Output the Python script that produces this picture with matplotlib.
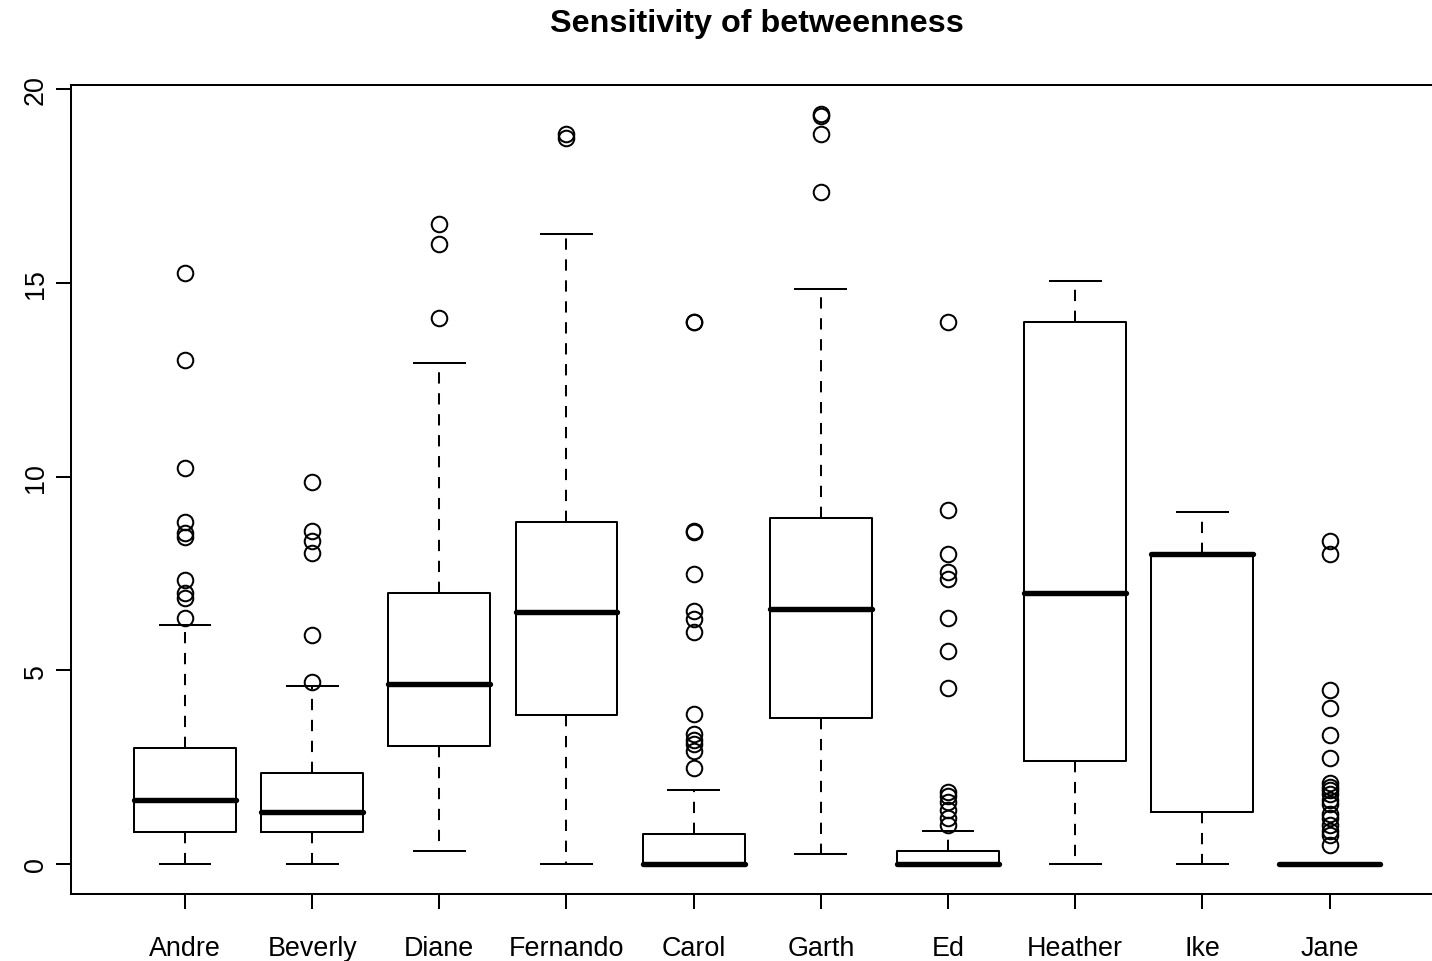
import matplotlib
matplotlib.use("Agg")
import matplotlib.pyplot as plt

plt.rcParams['font.family'] = ['Liberation Sans', 'DejaVu Sans']

title = "Sensitivity of betweenness"
names = ["Andre", "Beverly", "Diane", "Fernando", "Carol",
         "Garth", "Ed", "Heather", "Ike", "Jane"]
whislo = [0.0, 0.0, 0.33, 0.0, 0.0, 0.26, 0.0, 0.0, 0.0, 0.0]
q1 = [0.83, 0.83, 3.05, 3.85, 0.0, 3.77, 0.0, 2.66, 1.34, 0.0]
med = [1.65, 1.34, 4.66, 6.50, 0.0, 6.58, 0.0, 7.00, 8.00, 0.0]
q3 = [3.00, 2.35, 7.00, 8.83, 0.77, 8.93, 0.34, 14.00, 8.00, 0.0]
whishi = [6.17, 4.60, 12.94, 16.26, 1.90, 14.84, 0.85, 15.04, 9.08, 0.0]
outliers_andre = [15.25, 13.0, 10.23, 8.83, 8.55, 8.43, 7.34, 7.0, 6.86, 6.36]
outliers_beverly = [9.86, 8.6, 8.35, 8.03, 5.92, 4.7]
outliers_diane = [16.53, 16.0, 14.1]
outliers_fernando = [18.85, 18.75]
outliers_carol = [14.0, 14.0, 8.6, 8.57, 7.5, 6.52, 6.33, 6.0,
                  3.87, 3.35, 3.2, 3.1, 2.92, 2.48]
outliers_garth = [19.35, 19.3, 18.85, 17.34]
outliers_ed = [14.0, 9.15, 8.0, 7.55, 7.35, 6.35, 5.5, 4.55,
               1.85, 1.75, 1.6, 1.4, 1.2, 1.0]
outliers_heather = []
outliers_ike = []
outliers_jane = [8.34, 8.0, 4.5, 4.02, 3.33, 2.73, 2.1, 2.0, 1.9, 1.8,
                 1.65, 1.55, 1.3, 1.2, 1.0, 0.85, 0.75, 0.5]
fliers = [outliers_andre, outliers_beverly, outliers_diane, outliers_fernando,
          outliers_carol, outliers_garth, outliers_ed, outliers_heather,
          outliers_ike, outliers_jane]
yticks = [0, 5, 10, 15, 20]

W, H = 1432, 962
fig = plt.figure(figsize=(W / 100, H / 100), dpi=100)
# axes pixel box: left 70.5, right 1444 (beyond figure), top 85.5, bottom 895
ax = fig.add_axes([70.5 / W, 1 - 895 / H, (1444 - 70.5) / W, (895 - 85.5) / H])

stats = []
for i in range(len(names)):
    stats.append(dict(label=names[i], whislo=whislo[i], q1=q1[i], med=med[i],
                      q3=q3[i], whishi=whishi[i], fliers=fliers[i]))

LW = 1.45
positions = list(range(1, len(names) + 1))
ax.bxp(stats, positions=positions, widths=0.8, showfliers=True,
       boxprops=dict(color='black', linewidth=LW),
       whiskerprops=dict(color='black', linewidth=LW, linestyle=(0, (5.6, 4.8))),
       capprops=dict(color='black', linewidth=LW),
       capwidths=0.4,
       medianprops=dict(color='black', linewidth=3.9, solid_capstyle='round'),
       flierprops=dict(marker='o', markerfacecolor='none', markeredgecolor='black',
                       markersize=11.2, markeredgewidth=LW, linestyle='none'))

ymax = max(max(whishi), max(max(f) for f in fliers if f))
ymin = 0.0
pad = 0.04 * (ymax - ymin)
ax.set_ylim(ymin - pad, ymax + pad)
ax.set_xlim(0.1, len(names) + 0.9)

ax.set_yticks(yticks)
ax.set_yticklabels([str(t) for t in yticks], rotation=90, va='center', fontsize=19.4)
ax.set_xticks(positions)
ax.set_xticklabels(names, fontsize=19.4)
ax.tick_params(axis='both', direction='out', length=10.5, width=LW, color='black')
ax.tick_params(axis='y', pad=5)
ax.tick_params(axis='x', pad=19)
for s in ax.spines.values():
    s.set_linewidth(LW)
    s.set_color('black')

fig.text(757 / W, 1 - 24 / H, title, ha='center', va='center',
         fontsize=23.3, fontweight='bold')

fig.savefig("out.png", dpi=100)
